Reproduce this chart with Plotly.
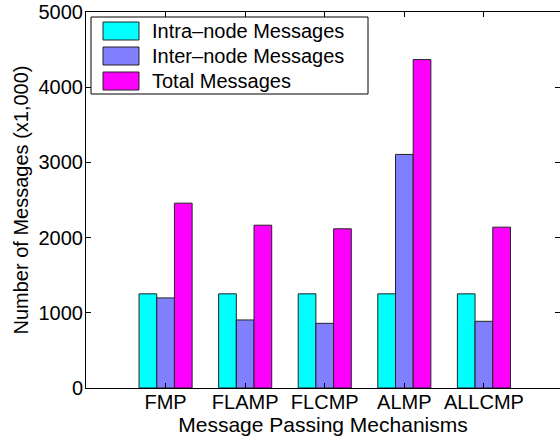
import plotly.graph_objects as go

categories = ["FMP", "FLAMP", "FLCMP", "ALMP", "ALLCMP"]
intra_node = [1252, 1252, 1252, 1252, 1252]
inter_node = [1198, 905, 860, 3106, 887]
total_msgs = [2458, 2165, 2117, 4367, 2139]
series_names = ["Intra\u2013node Messages", "Inter\u2013node Messages", "Total Messages"]
series_colors = ["#00FFFF", "#8080FF", "#FF00FF"]
y_ticks = [0, 1000, 2000, 3000, 4000, 5000]

W, H = 560, 440
ML, MR, MT, MB = 86, 0, 12, 52
PW, PH = W - ML - MR, H - MT - MB

FONT = "Liberation Sans, Arial, Helvetica, sans-serif"
FS = 20

fig = go.Figure()
for name, vals, col in zip(series_names, [intra_node, inter_node, total_msgs], series_colors):
    fig.add_trace(go.Bar(x=categories, y=vals, name=name, marker=dict(color=col, line=dict(color="#222222", width=1)), showlegend=False))

def px(xp):
    return (xp - ML) / PW

def py(yp):
    return (H - MB - yp) / PH

shapes = []
annotations = []
# legend box
shapes.append(dict(type="rect", xref="paper", yref="paper", x0=px(91), x1=px(368), y0=py(94), y1=py(17),
                   line=dict(color="black", width=1), fillcolor="white", layer="above"))
row_centers = [31, 56, 81]
for name, col, yc in zip(series_names, series_colors, row_centers):
    shapes.append(dict(type="rect", xref="paper", yref="paper", x0=px(103), x1=px(139), y0=py(yc + 9), y1=py(yc - 9),
                       line=dict(color="#222222", width=1), fillcolor=col, layer="above"))
    annotations.append(dict(text=name, xref="paper", yref="paper", x=px(150), y=py(yc), xanchor="left", yanchor="middle",
                            showarrow=False, font=dict(family=FONT, size=FS, color="black")))

fig.update_layout(
    width=W, height=H,
    margin=dict(l=ML, r=MR, t=MT, b=MB, autoexpand=False),
    paper_bgcolor="white", plot_bgcolor="white",
    barmode="group", bargap=0.333, bargroupgap=0,
    font=dict(family=FONT, size=FS, color="black"),
    shapes=shapes, annotations=annotations,
    showlegend=False,
)
fig.update_xaxes(
    range=[-1, -1 + 6 * PW / 477.5],
    showline=True, linecolor="black", linewidth=1, mirror="ticks",
    ticks="inside", ticklen=5, tickcolor="black", tickwidth=1,
    showgrid=False, zeroline=False,
    tickfont=dict(family=FONT, size=FS),
    ticklabelstandoff=-4,
    title=dict(text="Message Passing Mechanisms", font=dict(family=FONT, size=21), standoff=0),
    automargin=False,
)
fig.update_yaxes(
    range=[0, 5000], tickvals=y_ticks, ticktext=[str(v) for v in y_ticks],
    showline=True, linecolor="black", linewidth=1, mirror="ticks",
    ticks="inside", ticklen=5, tickcolor="black", tickwidth=1,
    showgrid=False, zeroline=False,
    tickfont=dict(family=FONT, size=FS),
    ticklabelstandoff=-2,
    title=dict(text="Number of Messages (x1,000)", font=dict(family=FONT, size=FS), standoff=4),
    automargin=False,
)
fig.write_html("out.html")
